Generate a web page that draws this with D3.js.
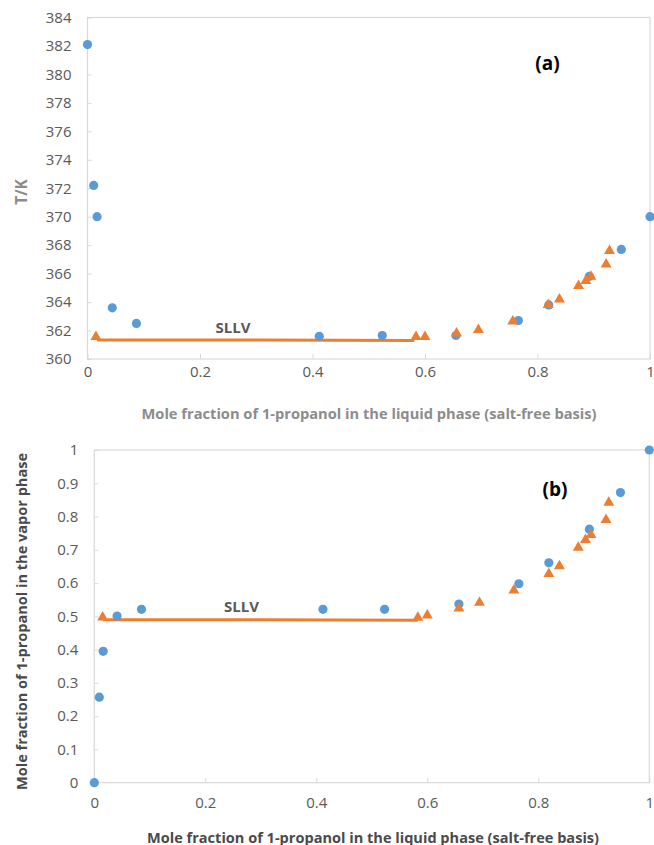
<!DOCTYPE html>
<html>
<head>
<meta charset="utf-8">
<script src="https://cdn.jsdelivr.net/npm/d3@7"></script>
<style>
  html, body { margin: 0; padding: 0; background: #fff; }
  svg { display: block; }
  text { font-family: "Open Sans", "Liberation Sans", sans-serif; }
</style>
</head>
<body>
<svg id="chart" width="654" height="845"></svg>
<script>
// ---- Panel (a): boiling temperature vs. liquid composition ----
const aExpX = [0, 0.011, 0.017, 0.044, 0.087, 0.412, 0.524, 0.655, 0.766, 0.820, 0.892, 0.949, 1.0];
const aExpT = [382.1, 372.2, 370.0, 363.6, 362.5, 361.6, 361.65, 361.65, 362.7, 363.8, 365.8, 367.7, 370.0];
const aSatX = [0.015, 0.584, 0.600, 0.656, 0.695, 0.756, 0.819, 0.839, 0.873, 0.886, 0.895, 0.922, 0.928];
const aSatT = [361.55, 361.55, 361.55, 361.8, 362.05, 362.65, 363.8, 364.2, 365.15, 365.5, 365.8, 366.65, 367.6];
const aLineX = [0.017, 0.30, 0.581];
const aLineT = [361.33, 361.33, 361.30];
const aYTicks = [360, 362, 364, 366, 368, 370, 372, 374, 376, 378, 380, 382, 384];

// ---- Panel (b): vapor composition vs. liquid composition ----
const bExpX = [0, 0.009, 0.016, 0.041, 0.085, 0.412, 0.523, 0.657, 0.765, 0.819, 0.892, 0.948, 1.0];
const bExpY = [0, 0.257, 0.395, 0.501, 0.521, 0.521, 0.521, 0.537, 0.598, 0.661, 0.762, 0.872, 1.0];
const bSatX = [0.015, 0.583, 0.600, 0.657, 0.694, 0.756, 0.819, 0.838, 0.872, 0.885, 0.895, 0.922, 0.927];
const bSatY = [0.497, 0.496, 0.503, 0.524, 0.541, 0.578, 0.628, 0.651, 0.707, 0.730, 0.745, 0.790, 0.842];
const bLineX = [0.015, 0.30, 0.583];
const bLineY = [0.490, 0.490, 0.488];
const bYTicks = [0, 0.1, 0.2, 0.3, 0.4, 0.5, 0.6, 0.7, 0.8, 0.9, 1];

const xTicks = [0, 0.2, 0.4, 0.6, 0.8, 1];
const xTitle = "Mole fraction of 1-propanol  in the liquid phase (salt-free basis)";

const BLUE = "#5B9BD5", ORANGE = "#ED7D31", BORDER = "#d9d9d9", TICKTXT = "#595959";

const svg = d3.select("#chart");

function panel(cfg) {
  const x = d3.scaleLinear().domain([0, 1]).range([cfg.left, cfg.right]);
  const y = d3.scaleLinear().domain(cfg.yDomain).range([cfg.bottom, cfg.top]);
  const g = svg.append("g");

  // plot-area frame
  g.append("rect")
    .attr("x", cfg.left).attr("y", cfg.top)
    .attr("width", cfg.right - cfg.left).attr("height", cfg.bottom - cfg.top)
    .attr("fill", "none").attr("stroke", BORDER).attr("stroke-width", 1.2);

  // y axis: inside ticks, labels on the left
  const yAxis = d3.axisLeft(y).tickValues(cfg.yTicks).tickSize(-4).tickPadding(16)
    .tickFormat(d => d3.format("~g")(d));
  const ya = g.append("g").attr("transform", `translate(${cfg.left},0)`).call(yAxis);
  ya.select(".domain").remove();
  ya.selectAll(".tick line").attr("stroke", BORDER);
  ya.selectAll(".tick text").attr("fill", TICKTXT).attr("font-size", 15)
    .attr("font-family", "'Open Sans', sans-serif");

  // x axis: inside ticks, labels below
  const xAxis = d3.axisBottom(x).tickValues(xTicks).tickSize(-5).tickPadding(cfg.xPad)
    .tickFormat(d => d3.format("~g")(d));
  const xa = g.append("g").attr("transform", `translate(0,${cfg.bottom})`).call(xAxis);
  xa.select(".domain").remove();
  xa.selectAll(".tick line").attr("stroke", BORDER);
  xa.selectAll(".tick text").attr("fill", TICKTXT).attr("font-size", 15)
    .attr("font-family", "'Open Sans', sans-serif");

  // SLLV tie line
  const line = d3.line().x(d => x(d[0])).y(d => y(d[1]));
  g.append("path")
    .datum(d3.zip(cfg.lineX, cfg.lineY))
    .attr("d", line)
    .attr("fill", "none").attr("stroke", ORANGE).attr("stroke-width", 3);

  // experimental points (circles)
  g.append("g").selectAll("circle")
    .data(d3.zip(cfg.expX, cfg.expY))
    .join("circle")
    .attr("cx", d => x(d[0])).attr("cy", d => y(d[1]))
    .attr("r", 4.6).attr("fill", BLUE);

  // saturated-solution points (triangles)
  const tri = d3.symbol().type(d3.symbolTriangle).size(52);
  g.append("g").selectAll("path")
    .data(d3.zip(cfg.satX, cfg.satY))
    .join("path")
    .attr("d", tri)
    .attr("transform", d => `translate(${x(d[0])},${y(d[1])})`)
    .attr("fill", ORANGE);

  // SLLV annotation
  g.append("text")
    .attr("x", cfg.sllv[0]).attr("y", cfg.sllv[1])
    .attr("text-anchor", "middle").attr("dominant-baseline", "central")
    .attr("font-size", 15).attr("font-weight", "bold").attr("fill", "#595959")
    .text("SLLV");

  // panel tag
  g.append("text")
    .attr("x", cfg.tag[0]).attr("y", cfg.tag[1])
    .attr("text-anchor", "middle").attr("dominant-baseline", "central")
    .attr("font-size", 19).attr("font-weight", "bold").attr("fill", "#000")
    .text(cfg.tagText);

  // axis titles
  g.append("text")
    .attr("x", cfg.xTitle[0]).attr("y", cfg.xTitle[1])
    .attr("text-anchor", "middle").attr("dominant-baseline", "central")
    .attr("font-size", cfg.xTitleSize).attr("font-weight", "bold").attr("fill", cfg.xTitleColor)
    .attr("textLength", cfg.xTitleLen).attr("lengthAdjust", "spacingAndGlyphs")
    .text(xTitle);

  const yt = g.append("text")
    .attr("transform", `translate(${cfg.yTitle[0]},${cfg.yTitle[1]}) rotate(-90)`)
    .attr("text-anchor", "middle").attr("dominant-baseline", "central")
    .attr("font-size", cfg.yTitleSize).attr("font-weight", "bold").attr("fill", cfg.yTitleColor)
    .text(cfg.yTitleText);
  if (cfg.yTitleLen) yt.attr("textLength", cfg.yTitleLen).attr("lengthAdjust", "spacingAndGlyphs");
}

panel({
  left: 87.5, right: 650, top: 17.5, bottom: 359,
  yDomain: [360, 384], yTicks: aYTicks, xPad: 7,
  expX: aExpX, expY: aExpT, satX: aSatX, satY: aSatT,
  lineX: aLineX, lineY: aLineT,
  sllv: [233, 326.5], tag: [547.5, 63], tagText: "(a)",
  xTitle: [369, 413], xTitleSize: 14.5, xTitleColor: "#8c8c8c", xTitleLen: 455,
  yTitle: [20.5, 192], yTitleSize: 15.5, yTitleColor: "#8c8c8c", yTitleText: "T/K"
});

panel({
  left: 94.3, right: 649.3, top: 450, bottom: 782.7,
  yDomain: [0, 1], yTicks: bYTicks, xPad: 15,
  expX: bExpX, expY: bExpY, satX: bSatX, satY: bSatY,
  lineX: bLineX, lineY: bLineY,
  sllv: [241.5, 605.5], tag: [555, 489], tagText: "(b)",
  xTitle: [373, 836.5], xTitleSize: 15, xTitleColor: "#4a4a4a", xTitleLen: 452,
  yTitle: [21, 621.5], yTitleSize: 14.5, yTitleColor: "#4a4a4a", yTitleText: "Mole fraction of 1-propanol in the vapor phase",
  yTitleLen: 337
});
</script>
</body>
</html>
